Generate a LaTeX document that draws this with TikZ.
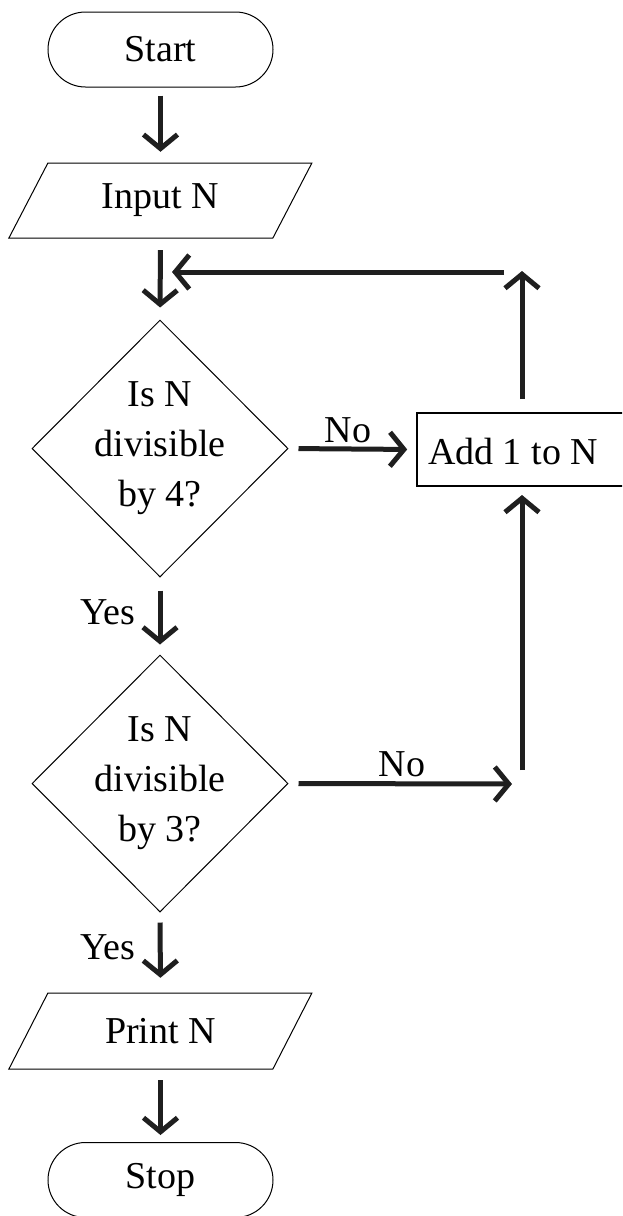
\documentclass[tikz,border=0pt]{standalone}
\usepackage{fontspec}
\setmainfont{Liberation Serif}
\usetikzlibrary{arrows.meta,shapes.misc,shapes.geometric}
\begin{document}
\begin{tikzpicture}[x=1pt,y=-1pt,
  txt/.style={font=\fontsize{38}{50}\selectfont, text=black},
  term/.style={rounded rectangle, draw, line width=1pt, minimum width=225, minimum height=75, inner sep=0, txt},
  dia/.style={diamond, draw, line width=1pt, minimum width=256, minimum height=257, inner sep=0},
  procbox/.style={rectangle, draw, line width=1.6pt, minimum width=216, minimum height=73, inner sep=0},
  arr/.style={line width=5pt, -{Straight Barb[length=14pt,width=34pt,line width=5pt]}, color=black!88},
  lbl/.style={txt, inner sep=0}
]
\useasboundingbox (0,0) rectangle (622,1216);
\clip (0,0) rectangle (622,1216);
% Start
\node[term] (start) at (160.5,49.5) {Start};
% Input N
\node[txt, inner sep=0, minimum width=303, minimum height=75] (input) at (160.5,200.5) {Input N};
\draw[line width=1pt] (input.south west) -- ++(39,-75) -- ++(264,0) -- ++(-39,75) -- cycle;
% Decision 1
\node[dia] (d1) at (160,448.5) {};
\node[txt, align=center, inner sep=0] (t1) at (d1) {Is N\\divisible\\by 4?};
% Decision 2
\node[dia] (d2) at (160,783.5) {};
\node[txt, align=center, inner sep=0] (t2) at (d2) {Is N\\divisible\\by 3?};
% Add 1 to N
\node[procbox] (add) at (525,449.5) {};
\node[txt, inner sep=0] (addtxt) at (513,451) {Add 1 to N};
% Print N
\node[txt, inner sep=0, minimum width=303, minimum height=76] (print) at (160.5,1031) {Print N};
\draw[line width=1pt] (print.south west) -- ++(39,-76) -- ++(264,0) -- ++(-39,76) -- cycle;
% Stop
\node[term] (stop) at (160.5,1180) {Stop};
% helper coordinates
\coordinate (loopin) at (172,272);
\coordinate (loopstart) at (504,272);
\coordinate (uptop) at (522,271);
\coordinate (upbot) at (522,399);
\coordinate (no2end) at (512,784);
\coordinate (no2up) at (522,770);
\coordinate (addbot) at (522,486);
% arrows
\draw[arr, shorten <=8pt, shorten >=11pt] (start.south) -- (input.north);
\draw[arr, shorten <=12pt, shorten >=12pt] (input.south) -- (d1.north);
\draw[arr] (loopstart) -- (loopin);
\draw[arr] (upbot) -- (uptop);
\draw[arr, shorten <=10pt, shorten >=9pt] (d1.east) -- (add.west);
\draw[arr, shorten <=13pt, shorten >=10pt] (d1.south) -- (d2.north);
\draw[arr, shorten <=10pt] (d2.east) -- (no2end);
\draw[arr, shorten >=9pt] (no2up) -- (addbot);
\draw[arr, shorten <=10pt, shorten >=15pt] (d2.south) -- (print.north);
\draw[arr, shorten <=11pt, shorten >=7pt] (print.south) -- (stop.north);
% labels
\node[lbl] (no1) at (348,430) {No};
\node[lbl] (no2) at (402,764) {No};
\node[lbl] (yes1) at (108,612) {Yes};
\node[lbl] (yes2) at (108,947) {Yes};
\end{tikzpicture}
\end{document}
